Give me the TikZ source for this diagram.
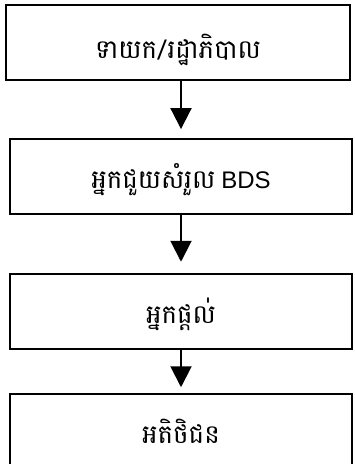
\documentclass[tikz,border=0pt]{standalone}
\usepackage{fontspec}
\setmainfont{Liberation Sans}
\newfontfamily\khmer[Script=Khmer,Scale=1.24]{Battambang}
\usetikzlibrary{arrows.meta}
\begin{document}
\begin{tikzpicture}[x=1pt,y=1pt,
  box/.style={draw, line width=2pt, minimum height=75.5pt, inner sep=0pt,
    text height=23pt, text depth=0pt, font=\fontsize{21}{25}\selectfont},
  arr/.style={line width=2pt, -{Triangle[width=21pt,length=21pt]}}]
\useasboundingbox (0,0) rectangle (355,-464);
\node[box, minimum width=344pt, text height=31pt] (b1) at (178,-42.5) {\khmer ទាយក/រដ្ឋាភិបាល};
\node[box, minimum width=342pt] (b2) at (181,-176.5) {{\khmer អ្នកជួយសំរួល} {\fontsize{24}{28}\selectfont BDS}};
\node[box, minimum width=342pt] (b3) at (181,-311.5) {\khmer អ្នកផ្តល់};
\node[box, minimum width=342pt] (b4) at (181,-431.5) {\khmer អតិថិជន};
\draw[arr, shorten >=8.7pt] (b1.south -| b2.north) -- (b2.north);
\draw[arr, shorten >=11pt] (b2.south) -- (b3.north);
\draw[arr, shorten >=5.5pt] (b3.south) -- (b4.north);
\end{tikzpicture}
\end{document}
